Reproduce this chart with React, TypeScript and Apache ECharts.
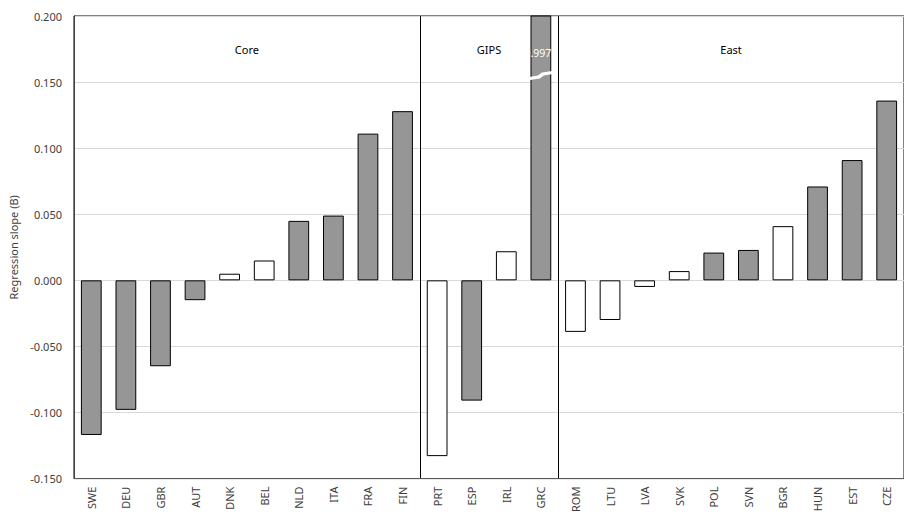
import React, { useEffect, useRef } from "react";
import * as echarts from "echarts";

const categories = ["SWE","DEU","GBR","AUT","DNK","BEL","NLD","ITA","FRA","FIN","PRT","ESP","IRL","GRC","ROM","LTU","LVA","SVK","POL","SVN","BGR","HUN","EST","CZE"];
const values = [-0.117,-0.098,-0.065,-0.015,0.005,0.015,0.045,0.049,0.111,0.128,-0.133,-0.091,0.022,0.997,-0.039,-0.030,-0.005,0.007,0.021,0.023,0.041,0.071,0.091,0.136];
const whiteBars = ["DNK","BEL","PRT","IRL","ROM","LTU","LVA","SVK","BGR"];
const groups = [
  { name: "Core", first: "SWE", last: "FIN" },
  { name: "GIPS", first: "PRT", last: "GRC" },
  { name: "East", first: "ROM", last: "CZE" },
];
const groupStarts = ["PRT", "ROM"];
const yMin = -0.15;
const yMax = 0.2;
const yStep = 0.05;

const FONT = "Noto Sans";

export default function App() {
  const ref = useRef<HTMLDivElement>(null);
  useEffect(() => {
    document.body.style.margin = "0";
    const chart = echarts.init(ref.current!, null, { renderer: "svg" });
    const startIdx = groupStarts.map((c) => categories.indexOf(c));
    chart.setOption({
      animation: false,
      grid: { left: 73, right: 0, top: 16, bottom: 34, show: true, borderColor: "#000", borderWidth: 1, backgroundColor: "transparent" },
      xAxis: {
        type: "category",
        data: categories,
        axisLine: { onZero: false, lineStyle: { color: "#595959" } },
        axisTick: { show: false },
        axisLabel: { rotate: 90, fontFamily: FONT, fontSize: 11, color: "#404040", margin: 8, interval: 0 },
        splitLine: {
          show: true,
          interval: (i: number) => startIdx.includes(i),
          lineStyle: { color: "#000", width: 1 },
        },
      },
      yAxis: {
        type: "value",
        min: yMin,
        max: yMax,
        interval: yStep,
        name: "Regression slope (B)",
        nameLocation: "middle",
        nameGap: 55,
        nameTextStyle: { fontFamily: FONT, fontSize: 11, color: "#404040" },
        axisLine: { show: true, lineStyle: { color: "#404040" } },
        axisTick: { show: false },
        axisLabel: { formatter: (v: number) => v.toFixed(3), fontFamily: FONT, fontSize: 11, color: "#404040", margin: 12 },
        splitLine: { lineStyle: { color: "#d9d9d9" } },
      },
      series: [
        {
          type: "bar",
          clip: true,
          barWidth: "60%",
          data: values.map((v, i) => ({
            value: v,
            itemStyle: {
              color: whiteBars.includes(categories[i]) ? "#ffffff" : "#969696",
              borderColor: "#000",
              borderWidth: 1,
            },
          })),
        },
      ],
    });

    const graphics: any[] = [];
    groups.forEach((g) => {
      const p1 = chart.convertToPixel({ gridIndex: 0 }, [g.first, 0.175]);
      const p2 = chart.convertToPixel({ gridIndex: 0 }, [g.last, 0.175]);
      graphics.push({
        type: "text",
        z: 100,
        x: (p1[0] + p2[0]) / 2,
        y: p1[1],
        style: { text: g.name, fontFamily: FONT, fontSize: 11, fill: "#000", align: "center", verticalAlign: "middle" },
      });
    });
    // clipped bar annotations
    values.forEach((v, i) => {
      if (v > yMax) {
        const pl = chart.convertToPixel({ gridIndex: 0 }, [categories[i], yMax - 0.028]);
        graphics.push({
          type: "text",
          z: 100,
          x: pl[0] - 3,
          y: pl[1],
          style: { text: v.toFixed(3), fontFamily: FONT, fontSize: 10.5, fill: "#fff", align: "center", verticalAlign: "middle" },
        });
        const pb = chart.convertToPixel({ gridIndex: 0 }, [categories[i], yMax - 0.045]);
        const cx = pb[0];
        const cy = pb[1];
        const pts = [[-14, 2], [-3, 0], [1, -3], [15, -5], [15, -2], [3, 0], [-1, 3], [-14, 5]];
        graphics.push({
          type: "polygon",
          z: 100,
          shape: { points: pts.map(([dx, dy]) => [cx + dx, cy + dy]) },
          style: { fill: "#fff" },
        });
      }
    });
    chart.setOption({ graphic: graphics });
    return () => chart.dispose();
  }, []);
  return <div ref={ref} style={{ width: 904, height: 515 }} />;
}
